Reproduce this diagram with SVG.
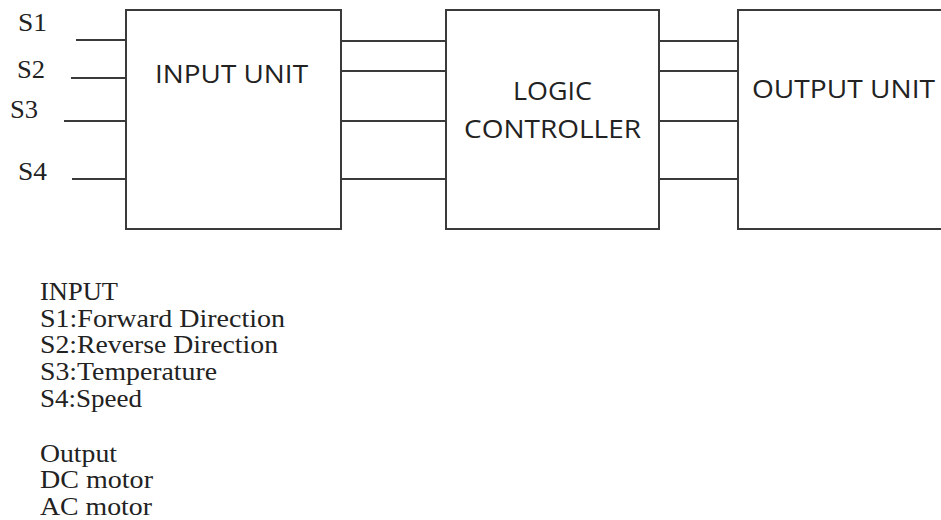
<svg xmlns="http://www.w3.org/2000/svg" width="941" height="520" viewBox="0 0 941 520">
  <style>
    .box { fill: #ffffff; stroke: #3a3a3a; stroke-width: 2; }
    .wire { stroke: #3a3a3a; stroke-width: 2; fill: none; }
    .blk { font-family: "Open Sans", "Liberation Sans", sans-serif; font-size: 25px; fill: #222; }
    .ser { font-family: "Liberation Serif", "Times New Roman", serif; font-size: 25px; fill: #222; }
  </style>
  <rect width="941" height="520" fill="#ffffff"/>

  <g id="input-unit">
    <rect class="box" x="126" y="10" width="215" height="219"/>
    <text class="blk" x="155" y="83" textLength="153" lengthAdjust="spacingAndGlyphs">INPUT UNIT</text>
  </g>

  <g id="logic-controller">
    <rect class="box" x="446" y="10" width="213" height="219"/>
    <text class="blk" x="513" y="100" textLength="79" lengthAdjust="spacingAndGlyphs">LOGIC</text>
    <text class="blk" x="464" y="138" textLength="177" lengthAdjust="spacingAndGlyphs">CONTROLLER</text>
  </g>

  <g id="output-unit">
    <path class="box" d="M945 10 H738 V229 H945"/>
    <text class="blk" x="752" y="98" textLength="183" lengthAdjust="spacingAndGlyphs">OUTPUT UNIT</text>
  </g>

  <g id="signal-labels">
    <text class="ser" x="18" y="31" textLength="29" lengthAdjust="spacingAndGlyphs">S1</text>
    <text class="ser" x="17" y="78" textLength="28" lengthAdjust="spacingAndGlyphs">S2</text>
    <text class="ser" x="10" y="118" textLength="28" lengthAdjust="spacingAndGlyphs">S3</text>
    <text class="ser" x="18" y="180" textLength="29" lengthAdjust="spacingAndGlyphs">S4</text>
  </g>

  <g id="connectors">
    <line class="wire" x1="76" y1="40" x2="126" y2="40"/>
    <line class="wire" x1="71" y1="78" x2="126" y2="78"/>
    <line class="wire" x1="64" y1="121" x2="126" y2="121"/>
    <line class="wire" x1="72" y1="179" x2="126" y2="179"/>

    <line class="wire" x1="341" y1="41" x2="446" y2="41"/>
    <line class="wire" x1="341" y1="71" x2="446" y2="71"/>
    <line class="wire" x1="341" y1="121" x2="446" y2="121"/>
    <line class="wire" x1="341" y1="179" x2="446" y2="179"/>

    <line class="wire" x1="659" y1="41" x2="738" y2="41"/>
    <line class="wire" x1="659" y1="71" x2="738" y2="71"/>
    <line class="wire" x1="659" y1="121" x2="738" y2="121"/>
    <line class="wire" x1="659" y1="179" x2="738" y2="179"/>
  </g>

  <g id="legend">
    <text class="ser" x="40" y="300" textLength="78" lengthAdjust="spacingAndGlyphs">INPUT</text>
    <text class="ser" x="40" y="327" textLength="245" lengthAdjust="spacingAndGlyphs">S1:Forward Direction</text>
    <text class="ser" x="40" y="353" textLength="238" lengthAdjust="spacingAndGlyphs">S2:Reverse Direction</text>
    <text class="ser" x="40" y="380" textLength="177" lengthAdjust="spacingAndGlyphs">S3:Temperature</text>
    <text class="ser" x="40" y="407" textLength="102" lengthAdjust="spacingAndGlyphs">S4:Speed</text>
    <text class="ser" x="40" y="462" textLength="77" lengthAdjust="spacingAndGlyphs">Output</text>
    <text class="ser" x="40" y="488" textLength="113" lengthAdjust="spacingAndGlyphs">DC motor</text>
    <text class="ser" x="40" y="515" textLength="112" lengthAdjust="spacingAndGlyphs">AC motor</text>
  </g>
</svg>
